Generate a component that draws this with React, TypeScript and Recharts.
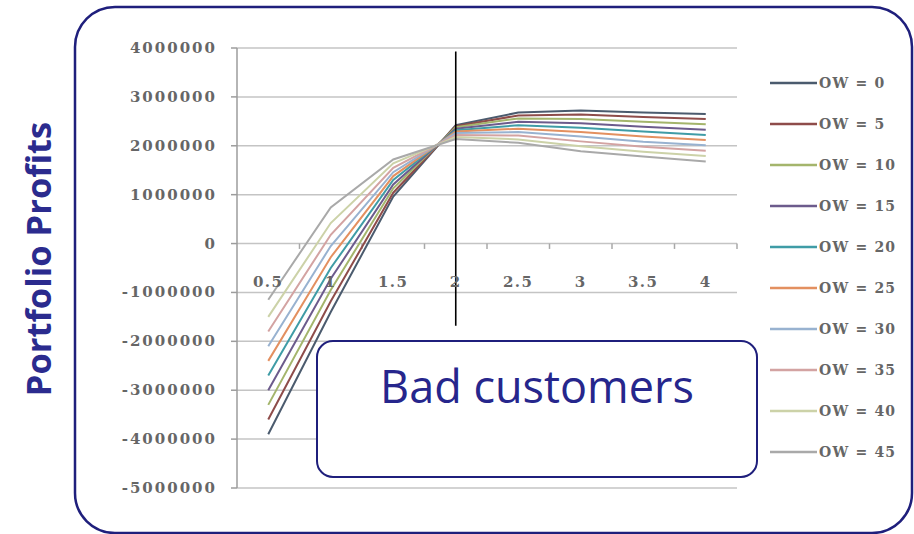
import React from "react";
import {
  CartesianGrid,
  Line,
  LineChart,
  ReferenceDot,
  ReferenceLine,
  XAxis,
  YAxis,
} from "recharts";

// horizon (years) on the category axis
const horizons = [0.5, 1, 1.5, 2, 2.5, 3, 3.5, 4];

// portfolio profit per overlap weight (OW)
const ow0 = [-3900000, -1400000, 960000, 2420000, 2680000, 2720000, 2680000, 2650000];
const ow5 = [-3600000, -1180000, 1040000, 2400000, 2620000, 2640000, 2590000, 2550000];
const ow10 = [-3300000, -950000, 1130000, 2380000, 2560000, 2550000, 2490000, 2440000];
const ow15 = [-3000000, -720000, 1210000, 2350000, 2490000, 2460000, 2390000, 2330000];
const ow20 = [-2700000, -500000, 1300000, 2320000, 2420000, 2370000, 2290000, 2220000];
const ow25 = [-2400000, -280000, 1380000, 2290000, 2350000, 2280000, 2190000, 2120000];
const ow30 = [-2100000, -50000, 1460000, 2260000, 2280000, 2190000, 2080000, 2010000];
const ow35 = [-1800000, 180000, 1550000, 2220000, 2210000, 2090000, 1980000, 1900000];
const ow40 = [-1500000, 420000, 1640000, 2180000, 2130000, 1990000, 1880000, 1790000];
const ow45 = [-1150000, 740000, 1720000, 2140000, 2060000, 1890000, 1780000, 1680000];

const yTicks = [4000000, 3000000, 2000000, 1000000, 0, -1000000, -2000000, -3000000, -4000000, -5000000];
// boundaries between categories, where the zero axis has its small tick marks
const categoryEdges = [0.75, 1.25, 1.75, 2.25, 2.75, 3.25, 3.75, 4.25];

const series = [
  { key: "ow0", name: "OW = 0", values: ow0, color: "#4b5b6e" },
  { key: "ow5", name: "OW = 5", values: ow5, color: "#8e4c4a" },
  { key: "ow10", name: "OW = 10", values: ow10, color: "#a4b56c" },
  { key: "ow15", name: "OW = 15", values: ow15, color: "#6c5b8c" },
  { key: "ow20", name: "OW = 20", values: ow20, color: "#3f9ca6" },
  { key: "ow25", name: "OW = 25", values: ow25, color: "#e39060" },
  { key: "ow30", name: "OW = 30", values: ow30, color: "#98b2d0" },
  { key: "ow35", name: "OW = 35", values: ow35, color: "#d3a3a2" },
  { key: "ow40", name: "OW = 40", values: ow40, color: "#ccd2a8" },
  { key: "ow45", name: "OW = 45", values: ow45, color: "#a9a9a9" },
];

const data = horizons.map((h, i) => {
  const row: Record<string, number> = { h };
  series.forEach((s) => {
    row[s.key] = s.values[i];
  });
  return row;
});

const NAVY = "#1f1f7c";
const LABEL_FONT = "'DejaVu Serif', serif";
const LABEL_FILL = "#666";

function YTick(props: any) {
  const { x, y, payload } = props;
  return (
    <text
      x={x}
      y={y}
      dy={5}
      textAnchor="end"
      fontFamily={LABEL_FONT}
      fontWeight="bold"
      fontSize={15}
      letterSpacing={2}
      fill={LABEL_FILL}
    >
      {payload.value}
    </text>
  );
}

function xLabel(text: string) {
  return (p: any) => {
    const vb = p.viewBox;
    return (
      <text
        x={vb.x + vb.width / 2}
        y={vb.y + vb.height / 2}
        dy={5}
        textAnchor="middle"
        fontFamily={LABEL_FONT}
        fontWeight="bold"
        fontSize={15}
        letterSpacing={1.5}
        fill={LABEL_FILL}
      >
        {text}
      </text>
    );
  };
}

export default function App() {
  return (
    <div
      style={{
        position: "absolute",
        left: 0,
        top: 0,
        width: 914,
        height: 534,
        background: "#fff",
        overflow: "hidden",
      }}
    >
      <LineChart
        width={914}
        height={534}
        data={data}
        margin={{ top: 48, right: 177, bottom: 46, left: 137 }}
      >
        <CartesianGrid horizontal vertical={false} stroke="#c4c4c4" strokeWidth={1.5} />
        <XAxis dataKey="h" type="number" domain={[0.25, 4.25]} hide />
        <YAxis
          type="number"
          domain={[-5000000, 4000000]}
          ticks={yTicks}
          interval={0}
          width={100}
          tickSize={6}
          tickMargin={14}
          axisLine={{ stroke: "#9c9c9c", strokeWidth: 1.5 }}
          tickLine={{ stroke: "#9c9c9c", strokeWidth: 1.5 }}
          tick={<YTick />}
        />
        {categoryEdges.map((e) => (
          <ReferenceLine
            key={`edge-${e}`}
            segment={[
              { x: e, y: 0 },
              { x: e, y: -110000 },
            ]}
            stroke="#a8a8a8"
            strokeWidth={1.5}
          />
        ))}
        {horizons.map((h) => (
          <ReferenceDot
            key={`lbl-${h}`}
            x={h}
            y={-780000}
            r={1}
            fill="none"
            stroke="none"
            label={xLabel(String(h))}
          />
        ))}
        {series.map((s) => (
          <Line
            key={s.key}
            type="linear"
            dataKey={s.key}
            name={s.name}
            stroke={s.color}
            strokeWidth={2}
            dot={false}
            isAnimationActive={false}
          />
        ))}
        <ReferenceLine
          segment={[
            { x: 2, y: 3930000 },
            { x: 2, y: -1680000 },
          ]}
          stroke="#000"
          strokeWidth={1.6}
        />
      </LineChart>

      <svg
        width={914}
        height={534}
        style={{ position: "absolute", left: 0, top: 0, pointerEvents: "none" }}
      >
        {/* slide frame */}
        <rect x={75} y={7} width={837} height={526} rx={40} fill="none" stroke={NAVY} strokeWidth={2.5} />
        <text
          transform="translate(51,259) rotate(-90)"
          textAnchor="middle"
          fontFamily="'Open Sans', sans-serif"
          fontWeight={700}
          fontSize={34.5}
          fill="#2b2b8e"
        >
          Portfolio Profits
        </text>

        {/* legend */}
        {series.map((s, i) => (
          <g key={s.key} transform={`translate(770, ${83 + i * 41})`}>
            <line x1={0} x2={47} y1={0} y2={0} stroke={s.color} strokeWidth={2.5} />
            <text
              x={49}
              y={5}
              fontFamily={LABEL_FONT}
              fontWeight="bold"
              fontSize={14}
              letterSpacing={1.2}
              fill={LABEL_FILL}
            >
              {s.name}
            </text>
          </g>
        ))}

        {/* callout */}
        <rect x={317} y={341} width={440} height={136} rx={16} fill="#fff" stroke={NAVY} strokeWidth={2} />
        <text
          x={537}
          y={403}
          textAnchor="middle"
          fontFamily="'Open Sans', sans-serif"
          fontSize={45}
          fill="#26268c"
        >
          Bad customers
        </text>
      </svg>
    </div>
  );
}
